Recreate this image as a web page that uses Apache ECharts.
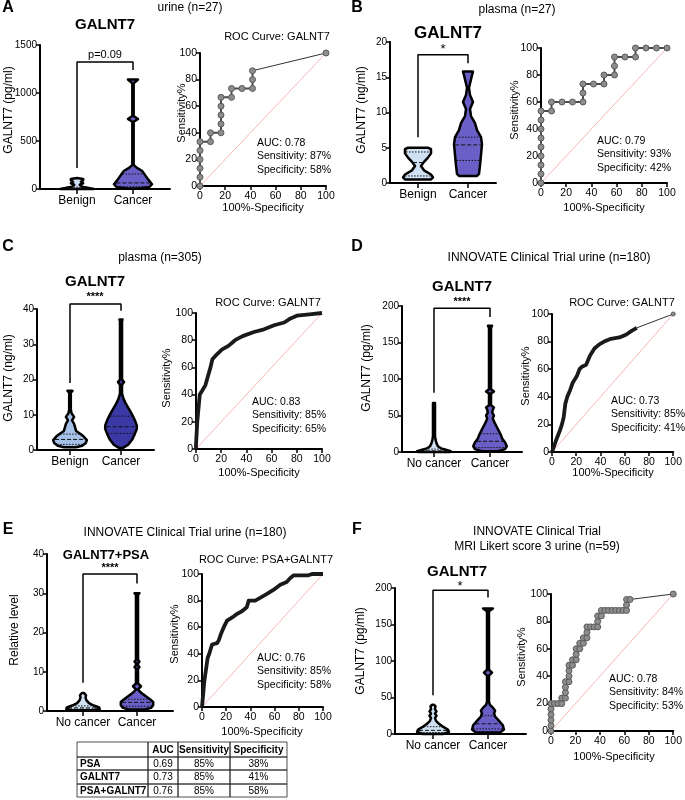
<!DOCTYPE html>
<html><head><meta charset="utf-8">
<script src="https://cdn.jsdelivr.net/npm/echarts@6/dist/echarts.min.js"></script>
<style>html,body{margin:0;padding:0;background:#fff}#c{width:685px;height:800px}</style>
</head><body><div id="c"></div><script>
// ---------- DATA ----------
// Panel A (urine n=27)
const aCats = ['Benign', 'Cancer'];
const aBenY = [0, 10, 25, 45, 60, 75, 90, 105, 115];
const aBenW = [0.30, 0.21, 0.09, 0.05, 0.11, 0.07, 0.11, 0.11, 0];
const aCanY = [5, 20, 50, 100, 150, 190, 220, 250, 700, 730, 760, 1100, 1140];
const aCanW = [0.11, 0.29, 0.34, 0.27, 0.21, 0.16, 0.07, 0.012, 0.012, 0.09, 0.012, 0.012, 0.09];
const aBenQ = [3, 8, 20];
const aCanQ = [25, 63, 156];
const aBracket = [[1, 219], [1, 1323], [2, 1323], [2, 1240]];
const aRoc = [[0,0],[0,6.67],[0,13.33],[0,20],[0,26.67],[0,33.33],[8.33,33.33],[8.33,40],[16.67,40],[16.67,46.67],[16.67,53.33],[16.67,60],[16.67,66.67],[25,66.67],[25,73.33],[33.33,73.33],[41.67,73.33],[41.67,80],[41.67,86.67]];
const aRocTail = [[41.67,86.67],[100,100]];
const aStats = ['AUC: 0.78', 'Sensitivity: 87%', 'Specificity: 58%'];

// Panel B (plasma n=27)
const bCats = ['Benign', 'Cancer'];
const bBenY = [0.5, 0.8, 1.2, 1.8, 2.4, 3.0, 3.6, 4.2, 4.8, 5.0];
const bBenW = [0.26, 0.30, 0.26, 0.12, 0.06, 0.12, 0.20, 0.26, 0.26, 0.20];
const bCanY = [1.0, 1.3, 2.5, 4.0, 5.5, 6.5, 7.5, 8.5, 9.5, 10.5, 11.5, 12.5, 13.5, 15.3, 15.8];
const bCanW = [0.18, 0.22, 0.24, 0.26, 0.28, 0.26, 0.18, 0.14, 0.06, 0.04, 0.10, 0.04, 0.02, 0.08, 0.10];
const bBenQ = [1.0, 2.9, 4.4];
const bCanQ = [3.2, 5.4, 6.5];
const bBracket = [[1, 6.5], [1, 18.2], [2, 18.2], [2, 17]];
const bRoc = [[0,0],[0,6.67],[0,13.33],[0,20],[0,26.67],[0,33.33],[0,40],[0,46.67],[0,53.33],[8.33,53.33],[8.33,60],[16.67,60],[25,60],[33.33,60],[33.33,66.67],[33.33,73.33],[41.67,73.33],[50,73.33],[50,80],[58.33,80],[58.33,86.67],[58.33,93.33],[66.67,93.33],[75,93.33],[75,100],[83.33,100],[91.67,100],[100,100]];
const bStats = ['AUC: 0.79', 'Sensitivity: 93%', 'Specificity: 42%'];

// Panel C (plasma n=305)
const cCats = ['Benign', 'Cancer'];
const cBenY = [0.8, 1.2, 2.0, 2.8, 3.8, 4.6, 5.4, 6.4, 7.4, 8.4, 9.4, 10.4, 11.5, 16.3, 16.8];
const cBenW = [0.12, 0.24, 0.31, 0.33, 0.27, 0.20, 0.12, 0.10, 0.08, 0.04, 0.08, 0.03, 0.016, 0.016, 0.05];
const cCanY = [0.6, 1.5, 3, 4.5, 6, 7, 8.5, 10, 11.5, 13, 14.5, 16, 18.5, 19.3, 20, 36.5, 37];
const cCanW = [0.04, 0.14, 0.22, 0.27, 0.31, 0.31, 0.27, 0.22, 0.16, 0.10, 0.05, 0.02, 0.02, 0.06, 0.02, 0.02, 0.03];
const cBenQ = [1.6, 3.0, 4.5];
const cCanQ = [4.7, 6.6, 9.6];
const cBracket = [[1, 19], [1, 41.4], [2, 41.4], [2, 39.5]];
const cRoc = [[0,0],[0,3],[1,20],[3,40],[5,43],[7.5,47],[9,52],[11.5,60],[13,66],[17,70],[20.5,73],[26,76],[31,80],[37,83],[46,86],[54,88],[62,91],[70,93],[75,96],[80,98],[90,99],[100,100]];
const cStats = ['AUC: 0.83', 'Sensitivity: 85%', 'Specificity: 65%'];

// Panel D (INNOVATE urine n=180)
const dCats = ['No cancer', 'Cancer'];
const dNoY = [0, 1, 3, 5, 8, 12, 17, 22, 67];
const dNoW = [0.29, 0.30, 0.21, 0.125, 0.07, 0.045, 0.027, 0.018, 0.018];
const dCanY = [1, 4, 8, 13, 18, 24, 30, 36, 42, 46, 50, 54, 58, 61, 64, 80, 83, 86, 170, 173];
const dCanW = [0.14, 0.27, 0.30, 0.27, 0.22, 0.19, 0.15, 0.11, 0.07, 0.05, 0.07, 0.04, 0.05, 0.07, 0.018, 0.018, 0.07, 0.018, 0.018, 0.036];
const dNoQ = [0.5, 1.5, 4];
const dCanQ = [6, 14.7, 25];
const dBracket = [[1, 81], [1, 197], [2, 197], [2, 185]];
const dRoc = [[0,0],[2,5],[4,10],[6.3,15],[8.2,20],[9.6,25],[11,35],[12.6,40],[15,45],[17,50],[20.5,55],[22.7,60],[25,62],[28,63],[29,65],[31.4,70],[35,75],[39,78],[43,80],[48.6,82],[55.5,83],[61,85],[66,88],[70,90]];
const dRocTail = [[70,90],[100,100]];
const dStats = ['AUC: 0.73', 'Sensitivity: 85%', 'Specificity: 41%'];

// Panel E (PSA+GALNT7)
const eCats = ['No cancer', 'Cancer'];
const eNoY = [0.2, 0.5, 0.9, 1.4, 2.0, 2.7, 3.4, 4.0, 4.6];
const eNoW = [0.19, 0.31, 0.30, 0.20, 0.11, 0.065, 0.046, 0.056, 0.02];
const eCanY = [0.4, 0.8, 1.5, 2.3, 3.0, 3.7, 4.3, 4.9, 5.5, 6.3, 7, 10.8, 11.2, 11.6, 12.2, 12.6, 13, 29.6, 30];
const eCanW = [0.15, 0.26, 0.30, 0.30, 0.24, 0.17, 0.11, 0.056, 0.019, 0.074, 0.019, 0.019, 0.046, 0.019, 0.019, 0.046, 0.019, 0.019, 0.046];
const eNoQ = [0.5, 0.8, 1.3];
const eCanQ = [1.2, 2.2, 3.0];
const eBracket = [[1, 7.2], [1, 34.9], [2, 34.9], [2, 32.5]];
const eRoc = [[0,0],[1,10],[2,20],[3.6,30],[4.7,37],[6,40],[8.3,47],[12.4,48],[13.8,50],[15.7,55],[18,60],[20.7,65],[26,68],[29,70],[33,72],[37,75],[38.6,80],[44,80],[48,82],[53.7,85],[59,88],[64.7,92],[70,94],[73,97],[75.8,99],[88,99],[91,100],[100,100]];
const eStats = ['AUC: 0.76', 'Sensitivity: 85%', 'Specificity: 58%'];
const tableHeader = ['', 'AUC', 'Sensitivity', 'Specificity'];
const tableRows = [['PSA', '0.69', '85%', '38%'], ['GALNT7', '0.73', '85%', '41%'], ['PSA+GALNT7', '0.76', '85%', '58%']];

// Panel F (Likert 3 urine n=59)
const fCats = ['No cancer', 'Cancer'];
const fNoY = [0, 3, 6, 10, 14, 18, 22, 25, 28, 31, 34, 38, 40];
const fNoW = [0.18, 0.29, 0.27, 0.18, 0.11, 0.055, 0.036, 0.064, 0.036, 0.064, 0.036, 0.045, 0.018];
const fCanY = [2, 6, 12, 18, 24, 28, 32, 36, 40, 44, 80, 84, 88, 168, 172];
const fCanW = [0.22, 0.29, 0.27, 0.20, 0.13, 0.11, 0.13, 0.09, 0.036, 0.018, 0.018, 0.073, 0.018, 0.018, 0.09];
const fNoQ = [2, 5, 10];
const fCanQ = [7, 14, 25];
const fBracket = [[1, 53], [1, 197], [2, 197], [2, 187]];
const fRoc = [[0,0],[0,4],[0,8],[0,12],[0,16],[0,20],[2.9,20],[5.9,20],[8.8,20],[8.8,24],[11.8,24],[11.8,28],[11.8,32],[11.8,36],[14.7,36],[14.7,40],[14.7,44],[14.7,48],[17.6,48],[17.6,52],[20.6,52],[20.6,56],[20.6,60],[23.5,60],[23.5,64],[26.5,64],[26.5,68],[29.4,68],[29.4,72],[29.4,76],[32.4,76],[35.3,76],[38.2,76],[38.2,80],[38.2,84],[41.2,84],[41.2,88],[44.1,88],[47.1,88],[50,88],[52.9,88],[55.9,88],[58.8,88],[61.8,88],[61.8,92],[61.8,96],[64.7,96]];
const fRocTail = [[64.7,96],[100,100]];
const fStats = ['AUC: 0.78', 'Sensitivity: 84%', 'Specificity: 53%'];

const diagonal = [[0, 0], [100, 100]];

// ---------- STYLE / LAYOUT ----------
const FONT = "'Liberation Sans', Arial, sans-serif";
const BLUE = '#cfe0f2', BLUE_C = '#a6c1e7', PURPLE = '#6a5fc6', NAVY = '#3b39a6';

const panels = [
  {cats: aCats, vio: [[aBenY, aBenW, aBenQ, BLUE], [aCanY, aCanW, aCanQ, PURPLE]], ymax: 1500, yint: 500, bracket: aBracket, roc: aRoc, tail: aRocTail, dots: true,
   v: {left: 40, top: 45, width: 130, height: 144, xmin: 0.339, xmax: 2.661}, r: {left: 200, top: 53, width: 126, height: 133}},
  {cats: bCats, vio: [[bBenY, bBenW, bBenQ, BLUE], [bCanY, bCanW, bCanQ, PURPLE]], ymax: 20, yint: 5, bracket: bBracket, roc: bRoc, tail: null, dots: true,
   v: {left: 390, top: 42, width: 106, height: 141, xmin: 0.44, xmax: 2.56}, r: {left: 541, top: 48, width: 126, height: 135}},
  {cats: cCats, vio: [[cBenY, cBenW, cBenQ, BLUE_C], [cCanY, cCanW, cCanQ, NAVY]], ymax: 40, yint: 10, bracket: cBracket, roc: cRoc, tail: null, dots: false,
   v: {left: 37, top: 309, width: 117, height: 141, xmin: 0.353, xmax: 2.647}, r: {left: 196, top: 313, width: 126, height: 136}},
  {cats: dCats, vio: [[dNoY, dNoW, dNoQ, BLUE], [dCanY, dCanW, dCanQ, PURPLE]], ymax: 200, yint: 50, bracket: dBracket, roc: dRoc, tail: dRocTail, dots: false,
   v: {left: 402, top: 306, width: 120, height: 146, xmin: 0.429, xmax: 2.571}, r: {left: 552, top: 314, width: 122, height: 138}},
  {cats: eCats, vio: [[eNoY, eNoW, eNoQ, BLUE], [eCanY, eCanW, eCanQ, PURPLE]], ymax: 40, yint: 10, bracket: eBracket, roc: eRoc, tail: null, dots: false,
   v: {left: 47, top: 554, width: 126, height: 157, xmin: 0.333, xmax: 2.667}, r: {left: 202, top: 574, width: 121, height: 133}},
  {cats: fCats, vio: [[fNoY, fNoW, fNoQ, BLUE], [fCanY, fCanW, fCanQ, PURPLE]], ymax: 200, yint: 50, bracket: fBracket, roc: fRoc, tail: fRocTail, dots: true,
   v: {left: 395, top: 588, width: 131, height: 146, xmin: 0.309, xmax: 2.691}, r: {left: 551, top: 594, width: 126, height: 137}}
];

function interp(ys, ws, q) {
  for (let k = 1; k < ys.length; k++) {
    if (q <= ys[k]) { const t = (q - ys[k-1]) / (ys[k] - ys[k-1]); return ws[k-1] + t * (ws[k] - ws[k-1]); }
  }
  return ws[ws.length - 1];
}

const axisLineStyle = {color: '#000', width: 2};
const plain = v => String(v);
const grid = [], xAxis = [], yAxis = [], series = [];

panels.forEach((p, i) => {
  const gv = i * 2, gr = i * 2 + 1;
  grid.push({left: p.v.left, top: p.v.top, width: p.v.width, height: p.v.height});
  grid.push({left: p.r.left, top: p.r.top, width: p.r.width, height: p.r.height});
  xAxis.push({gridIndex: gv, type: 'value', min: p.v.xmin, max: p.v.xmax,
    axisLine: {show: true, onZero: false, lineStyle: axisLineStyle},
    axisTick: {show: true, customValues: [1, 2], length: 5, lineStyle: {color: '#000', width: 1.5}},
    axisLabel: {customValues: [1, 2], formatter: v => p.cats[Math.round(v) - 1], color: '#000', fontSize: 12, fontFamily: FONT, margin: 6},
    splitLine: {show: false}});
  yAxis.push({gridIndex: gv, type: 'value', min: 0, max: p.ymax, interval: p.yint,
    axisLine: {show: true, onZero: false, lineStyle: axisLineStyle},
    axisTick: {show: true, length: 4, lineStyle: {color: '#000', width: 1.5}},
    axisLabel: {color: '#000', fontSize: 10, fontFamily: FONT, margin: 3, formatter: plain},
    splitLine: {show: false}});
  xAxis.push({gridIndex: gr, type: 'value', min: 0, max: 100, interval: 20,
    axisLine: {show: true, onZero: false, lineStyle: axisLineStyle},
    axisTick: {show: true, length: 4, lineStyle: {color: '#000', width: 1.5}},
    axisLabel: {color: '#000', fontSize: 10.5, fontFamily: FONT, margin: 5, formatter: plain},
    splitLine: {show: false}});
  yAxis.push({gridIndex: gr, type: 'value', min: 0, max: 100, interval: 20,
    axisLine: {show: true, onZero: false, lineStyle: axisLineStyle},
    axisTick: {show: true, length: 4, lineStyle: {color: '#000', width: 1.5}},
    axisLabel: {color: '#000', fontSize: 10.5, fontFamily: FONT, margin: 3, formatter: plain},
    splitLine: {show: false}});

  // violins
  series.push({type: 'custom', xAxisIndex: gv, yAxisIndex: gv, clip: false, silent: true,
    data: p.vio.map((v, k) => [k + 1, k]),
    renderItem: (params, api) => {
      const k = params.dataIndex, v = p.vio[k], cx = k + 1;
      const ys = v[0], ws = v[1];
      const right = ys.map((y, j) => api.coord([cx + ws[j], y]));
      const left = ys.map((y, j) => api.coord([cx - ws[j], y])).reverse();
      const children = [{type: 'polygon', shape: {points: right.concat(left)},
        style: {fill: v[3], stroke: '#000', lineWidth: 2.5, lineJoin: 'round'}}];
      v[2].forEach((q, j) => {
        const w = interp(ys, ws, q) * 0.92;
        const p1 = api.coord([cx - w, q]), p2 = api.coord([cx + w, q]);
        children.push({type: 'line', shape: {x1: p1[0], y1: p1[1], x2: p2[0], y2: p2[1]},
          style: {stroke: '#111', lineWidth: 1, lineDash: j === 1 ? [4, 2] : [1.5, 1.5]}});
      });
      return {type: 'group', children};
    }});
  // significance bracket
  series.push({type: 'line', xAxisIndex: gv, yAxisIndex: gv, data: p.bracket, symbol: 'none', clip: false,
    lineStyle: {color: '#000', width: 1.5}});
  // ROC diagonal
  series.push({type: 'line', xAxisIndex: gr, yAxisIndex: gr, data: diagonal, symbol: 'none',
    lineStyle: {color: '#f4a3a3', width: 0.8}});
  // ROC curve
  if (p.dots) {
    series.push({type: 'line', xAxisIndex: gr, yAxisIndex: gr, data: p.roc, symbol: 'circle', symbolSize: 6, showAllSymbol: true, clip: false,
      itemStyle: {color: '#8d8d8d', borderColor: '#5a5a5a', borderWidth: 1}, lineStyle: {color: '#4a4a4a', width: 2}});
  } else {
    series.push({type: 'line', xAxisIndex: gr, yAxisIndex: gr, data: p.roc, symbol: 'none', clip: false,
      lineStyle: {color: '#1a1a1a', width: 3.8, join: 'round'}});
  }
  if (p.tail) {
    series.push({type: 'line', xAxisIndex: gr, yAxisIndex: gr, clip: false,
      data: p.tail.map((pt, j) => ({value: pt, symbolSize: j === 0 ? 0 : (p.dots ? 6 : 4)})),
      symbol: 'circle', showAllSymbol: true,
      itemStyle: {color: '#8d8d8d', borderColor: '#5a5a5a', borderWidth: 1}, lineStyle: {color: '#333', width: 1}});
  }
});

// ---------- TEXT ----------
const graphic = [];
function txt(t, x, y, size, opt) {
  opt = opt || {};
  graphic.push({type: 'text', x: x, y: y, rotation: opt.rot || 0, silent: true,
    style: {text: t, fill: '#000', font: (opt.bold ? 'bold ' : '') + size + 'px ' + FONT,
      textAlign: opt.align || 'center', textVerticalAlign: 'middle'}});
}
const R = Math.PI / 2;
// panel letters
[['A', 8, 8], ['B', 357, 8], ['C', 8, 247], ['D', 357, 247], ['E', 8, 530], ['F', 357, 530]].forEach(l => txt(l[0], l[1], l[2], 16, {bold: true}));
// headers
txt('urine (n=27)', 190, 8, 12);
txt('plasma (n=27)', 517, 10, 12);
txt('plasma (n=305)', 160, 258, 12);
txt('INNOVATE Clinical Trial urine (n=180)', 549, 258, 12);
txt('INNOVATE Clinical Trial urine (n=180)', 185, 533, 12);
txt('INNOVATE Clinical Trial', 537, 532, 12);
txt('MRI Likert score 3 urine (n=59)', 537, 547, 12);
// violin titles
txt('GALNT7', 105, 25, 15, {bold: true});
txt('GALNT7', 448, 33, 17, {bold: true});
txt('GALNT7', 95, 282, 15, {bold: true});
txt('GALNT7', 462, 287, 15, {bold: true});
txt('GALNT7+PSA', 106, 555, 13, {bold: true});
txt('GALNT7', 457, 572, 15, {bold: true});
// significance
txt('p=0.09', 105, 55, 11);
txt('*', 443, 49, 13);
txt('****', 95, 297, 11, {bold: true});
txt('****', 462, 302, 11, {bold: true});
txt('****', 110, 568, 11, {bold: true});
txt('*', 460, 586, 13);
// ROC titles
txt('ROC Curve: GALNT7', 277, 37, 11);
txt('ROC Curve: GALNT7', 268, 303, 11);
txt('ROC Curve: GALNT7', 622, 303, 11);
txt('ROC Curve: PSA+GALNT7', 266, 560, 11);
// y titles
txt('GALNT7 (pg/ml)', 9, 110, 12, {rot: R});
txt('GALNT7 (ng/ml)', 362, 110, 12, {rot: R});
txt('GALNT7 (ng/ml)', 9, 378, 12, {rot: R});
txt('GALNT7 (pg/ml)', 367, 368, 12, {rot: R});
txt('Relative level', 15, 630, 12, {rot: R});
txt('GALNT7 (pg/ml)', 361, 651, 12, {rot: R});
[[182, 113], [515, 110], [167, 378], [526, 376], [175, 634], [522, 657]].forEach(s => txt('Sensitivity%', s[0], s[1], 11, {rot: R}));
// x titles
[[263, 208], [604, 208], [259, 473], [613, 473], [262, 732], [614, 757]].forEach(s => txt('100%-Specificity', s[0], s[1], 11));
// stats
[[aStats, 257, 143], [bStats, 597, 141], [cStats, 252, 402], [dStats, 611, 401], [eStats, 257, 658], [fStats, 609, 679]].forEach(s => {
  s[0].forEach((t, j) => txt(t, s[1], s[2] + j * 13.5, 10.5, {align: 'left'}));
});
// table
const colX = [77, 148, 178, 230, 287];
const rowY = [742, 757, 770, 784, 797];
[tableHeader].concat(tableRows).forEach((row, r) => {
  row.forEach((cell, c) => {
    graphic.push({type: 'rect', silent: true, shape: {x: colX[c], y: rowY[r], width: colX[c+1] - colX[c], height: rowY[r+1] - rowY[r]},
      style: {fill: 'none', stroke: '#222', lineWidth: 0.8}});
    if (cell) {
      const bold = r === 0 || c === 0;
      const x = c === 0 ? colX[c] + 3 : (colX[c] + colX[c+1]) / 2;
      txt(cell, x, (rowY[r] + rowY[r+1]) / 2 + 0.5, 10, {bold: bold, align: c === 0 ? 'left' : 'center'});
    }
  });
});

const chart = echarts.init(document.getElementById('c'), null, {width: 685, height: 800});
chart.setOption({backgroundColor: '#fff', animation: false, grid, xAxis, yAxis, series, graphic});
</script></body></html>
